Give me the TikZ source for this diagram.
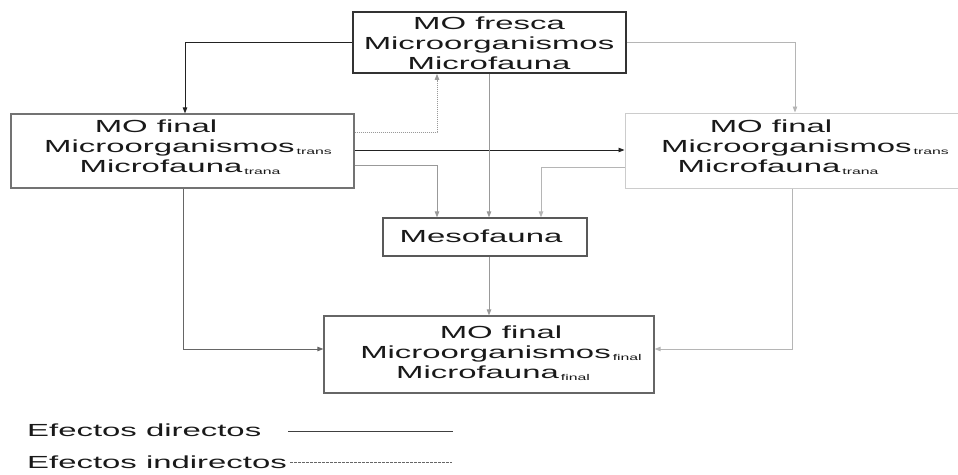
\documentclass[tikz,border=0pt]{standalone}
\usepackage{fontspec}
\setmainfont{Liberation Sans}[FakeStretch=1.88]
\usetikzlibrary{arrows.meta}
\newcommand{\subtx}[1]{\hspace{2pt}\raisebox{-2pt}{\fontsize{8.4}{9}\selectfont #1}}
\definecolor{dk}{HTML}{222222}
\definecolor{gA}{HTML}{999999}
\definecolor{gB}{HTML}{B5B5B5}
\begin{document}
\begin{tikzpicture}[x=1pt,y=-1pt,
  font=\fontsize{17.5}{20}\selectfont,
  box/.style={draw, rectangle, inner sep=0pt},
  txt/.style={align=center, inner sep=0pt, text=black!90},
  tip/.style={-{Triangle[length=6pt,width=4.5pt]}},
  dir/.style={draw=dk, line width=0.9pt, tip},
  dirb/.style={draw=black!60, line width=0.9pt, tip},
  ind/.style={draw=gA, line width=0.9pt, tip},
  indl/.style={draw=gB, line width=0.9pt, tip},
  dotl/.style={draw=gA, line width=0.9pt, dash pattern=on 1pt off 1pt, tip}]
\useasboundingbox (0,0) rectangle (958,474);

% boxes
\node[box, draw=black!80, line width=1.8pt, minimum width=273pt, minimum height=61pt] (top) at (489.5,42.5) {};
\node[txt] (topT) at (489,43) {MO fresca\\Microorganismos\\Microfauna};

\node[box, draw=black!55, line width=1.2pt, minimum width=343pt, minimum height=74pt] (left) at (182.5,151) {};
\node[txt] (leftT) at (188,147.6) {MO final\hspace{64pt}\mbox{}\\Microorganismos\subtx{trans}\\Microfauna\subtx{trana}\hspace{16pt}\mbox{}};

\node[box, draw=black!20, line width=1pt, minimum width=349pt, minimum height=75pt] (right) at (799.5,150.5) {};
\node[txt] (rightT) at (805,147.6) {MO final\hspace{68pt}\mbox{}\\Microorganismos\subtx{trans}\\Microfauna\subtx{trana}\hspace{54pt}\mbox{}};

\node[box, draw=black!65, line width=1.2pt, minimum width=204pt, minimum height=38pt] (meso) at (485,237) {};
\node[txt] (mesoT) at (481,236.7) {Mesofauna};

\node[box, draw=black!60, line width=1.2pt, minimum width=330pt, minimum height=77pt] (bottom) at (489,354.5) {};
\node[txt] (bottomT) at (501,353.2) {MO final\\Microorganismos\subtx{final}\\Microfauna\subtx{final}\hspace{16pt}\mbox{}};

% connectors
\coordinate (c1) at (185,42);
\draw[dir] (top.west |- c1) -- (c1) -- (c1 |- left.north);

\coordinate (c2) at (795,42);
\draw[indl] (top.east |- c2) -- (c2) -- (c2 |- right.north);

\coordinate (c3) at (437,132);
\draw[dotl] (left.east |- c3) -- (c3) -- (c3 |- top.south);

\coordinate (c4) at (0,150);
\draw[dir] (left.east |- c4) -- (right.west |- c4);

\coordinate (c5) at (437,165);
\draw[ind] (left.east |- c5) -- (c5) -- (c5 |- meso.north);

\coordinate (c6) at (489,0);
\draw[ind] (top.south -| c6) -- (meso.north -| c6);

\coordinate (c7) at (541,167);
\draw[indl] (right.west |- c7) -- (c7) -- (c7 |- meso.north);

\draw[ind] (meso.south -| c6) -- (bottom.north -| c6);

\coordinate (c9) at (183,349);
\draw[dirb] (left.south -| c9) -- (c9) -- (bottom.west |- c9);

\coordinate (c10) at (792,349);
\draw[indl] (right.south -| c10) -- (c10) -- (bottom.east |- c10);

% legend
\node[anchor=base west, inner sep=0pt, text=black!90] (lg1) at (27,436) {Efectos directos};
\node[anchor=base west, inner sep=0pt, text=black!90] (lg2) at (27,468) {Efectos indirectos};
\coordinate (l1a) at (288,431);
\coordinate (l1b) at (453,431);
\draw[draw=black!75, line width=0.8pt] (l1a) -- (l1b);
\coordinate (l2a) at (290,462);
\coordinate (l2b) at (452,462);
\draw[draw=black!60, line width=0.8pt, dash pattern=on 2.5pt off 1.5pt] (l2a) -- (l2b);
\end{tikzpicture}
\end{document}
